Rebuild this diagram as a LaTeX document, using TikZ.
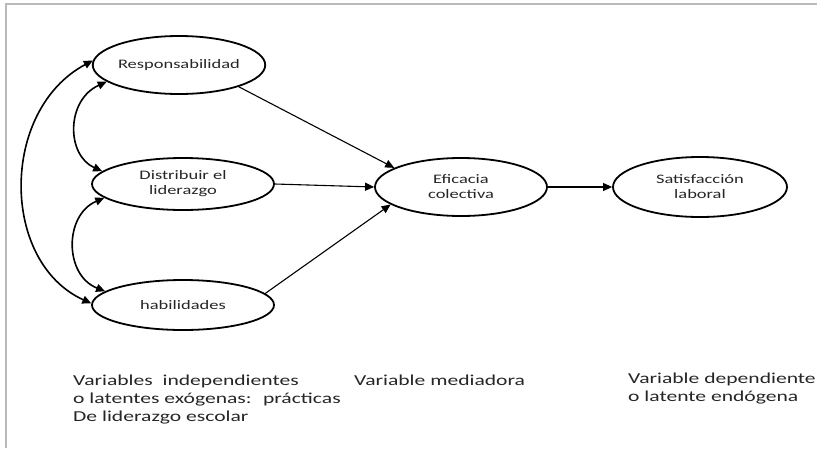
\documentclass[tikz,border=0pt]{standalone}
\usepackage{fontspec}
\setmainfont{Carlito}[FakeStretch=1.42]
\usetikzlibrary{shapes.geometric,arrows.meta}
\tikzset{
  var/.style={draw, ellipse, line width=1.8pt, inner sep=0pt, align=center,
    font=\fontsize{13}{15}\selectfont, text=black!85},
  pathline/.style={line width=1.1pt, -{Triangle[length=9pt,width=8pt]}},
  covline/.style={line width=1.6pt, {Triangle[length=9pt,width=8pt]}-{Triangle[length=9pt,width=8pt]}},
  legendtext/.style={anchor=north west, inner sep=0pt, align=left, text=black!85,
    font=\fontsize{15.2}{18}\selectfont},
}
\begin{document}
\begin{tikzpicture}[x=1pt,y=-1pt]
\useasboundingbox (0,0) rectangle (817,448);
\draw[gray!55, line width=1.3pt] (6,448) -- (6,4) -- (817,4);

\node[var, minimum width=172pt, minimum height=58pt] (r) at (179,65) {Responsabilidad};
\node[var, minimum width=182pt, minimum height=52pt] (d) at (183,184) {Distribuir el\\liderazgo};
\node[var, minimum width=182pt, minimum height=50pt] (h) at (183,305) {habilidades};
\node[var, minimum width=172pt, minimum height=58pt] (e) at (461,187) {Eficacia\\colectiva};
\node[var, minimum width=174pt, minimum height=60pt] (s) at (700,187) {Satisfacción\\laboral};

\draw[pathline] (r.340) -- (e.164);
\draw[pathline] (d.east) -- (e.west);
\draw[pathline] (h.8) -- (e.194);
\draw[pathline] (e.east) -- (s.west);

\draw[covline] (r.177) .. controls (0,110) and (0,262) .. (h.179);
\draw[covline] (r.193) .. controls (66,100) and (66,155) .. (d.171);
\draw[covline] (d.190) .. controls (64,215) and (64,275) .. (h.170);

\node[legendtext] (c1) at (73,375) {Variables~ independientes\\o latentes exógenas:~ prácticas\\De liderazgo escolar};
\node[legendtext] (c2) at (354,375) {Variable mediadora};
\node[legendtext] (c3) at (628,373) {Variable dependiente\\o latente endógena};
\end{tikzpicture}
\end{document}
